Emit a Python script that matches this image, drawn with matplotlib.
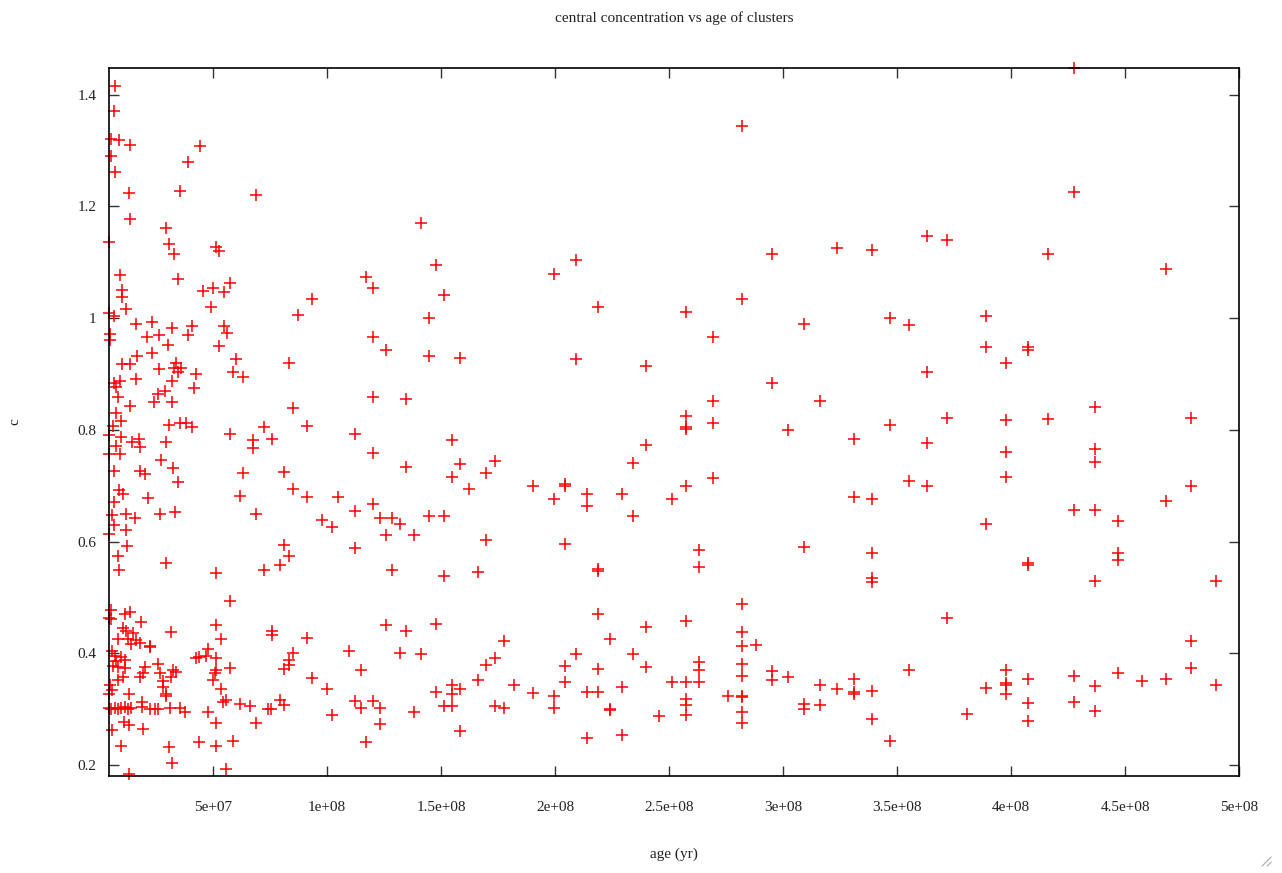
import numpy as np
import matplotlib
matplotlib.use("Agg")
import matplotlib.pyplot as plt
from matplotlib.ticker import FuncFormatter, MultipleLocator
from matplotlib.lines import Line2D

plt.rcParams['font.family'] = ['Liberation Serif', 'DejaVu Serif']

# cluster ages in Myr and central concentration c, grouped by age range
young_age = [6.89, 6.45, 5.44, 8.77, 13.78, 44.48, 38.91, 5.44, 6.89, 13.16,
             35.40, 13.78, 29.57, 4.39, 30.71, 33.08, 51.20, 52.64, 9.39, 34.53,
             10.27, 10.27, 12.02, 45.63, 50.01, 54.71, 57.64, 49.13, 4.39, 6.45,
             16.41, 23.25, 32.20, 40.67, 38.91, 55.01, 56.15, 4.69, 4.69, 21.06,
             26.32, 30.27, 52.51, 16.67, 23.25, 10.27, 13.47, 26.32, 33.65, 33.08,
             35.97, 34.83, 42.73, 59.97, 58.79, 63.17, 6.45, 9.08, 16.10, 32.20,
             41.85, 7.33, 8.34, 28.82, 25.88, 24.00, 32.20, 13.78, 7.33]
young_c = [1.416, 1.371, 1.320, 1.319, 1.310, 1.308, 1.279, 1.290, 1.261, 1.223,
           1.228, 1.177, 1.161, 1.136, 1.133, 1.114, 1.128, 1.120, 1.077, 1.070,
           1.050, 1.037, 1.016, 1.049, 1.054, 1.047, 1.062, 1.019, 1.009, 1.003,
           0.989, 0.993, 0.982, 0.986, 0.969, 0.985, 0.974, 0.972, 0.961, 0.967,
           0.969, 0.952, 0.950, 0.933, 0.937, 0.918, 0.918, 0.908, 0.919, 0.910,
           0.910, 0.903, 0.900, 0.926, 0.903, 0.894, 0.883, 0.888, 0.891, 0.888,
           0.874, 0.877, 0.859, 0.870, 0.864, 0.849, 0.850, 0.843, 0.831]

young2_age = [9.83, 6.14, 30.71, 35.40, 38.04, 40.97, 4.39, 9.83, 14.65, 17.55,
              17.86, 29.57, 57.64, 7.63, 4.39, 9.39, 27.37, 32.46, 6.45, 17.86,
              20.05, 34.83, 63.17, 8.77, 10.53, 21.50, 61.73, 6.45, 5.88, 11.71,
              15.66, 26.63, 33.21, 6.45, 12.02, 4.39, 12.28, 8.34, 8.77, 29.57,
              51.20, 57.34]
young2_c = [0.816, 0.807, 0.809, 0.813, 0.812, 0.805, 0.791, 0.787, 0.778, 0.783,
            0.770, 0.778, 0.793, 0.771, 0.757, 0.757, 0.746, 0.731, 0.726, 0.727,
            0.721, 0.707, 0.723, 0.692, 0.685, 0.678, 0.682, 0.671, 0.648, 0.649,
            0.643, 0.649, 0.653, 0.630, 0.621, 0.614, 0.593, 0.575, 0.549, 0.561,
            0.544, 0.494]

young3_age = [5.44, 5.44, 4.39, 11.27, 13.47, 18.29, 10.53, 12.02, 14.92, 8.34,
              12.72, 16.41, 14.21, 17.86, 22.55, 22.24, 31.76, 51.20, 53.70, 47.82,
              42.73, 43.87, 47.12, 51.50, 5.88, 6.89, 9.83, 7.63, 11.27, 6.14,
              8.34, 11.27, 20.05, 25.88, 19.30, 17.86, 26.63, 32.46, 33.96, 31.76,
              10.53, 8.34, 28.08, 28.08, 50.76, 51.50, 50.01, 57.34, 4.69, 5.88,
              4.39, 13.16, 29.26, 29.57, 53.70, 55.58, 54.40, 19.04, 19.04, 61.73,
              66.11,
              4.39, 5.44, 6.89, 8.34, 9.83, 11.27, 12.72, 14.21, 22.24, 24.44,
              25.88, 31.02, 35.40, 37.60, 47.82, 10.84, 13.16, 5.88, 19.30, 51.20,
              9.83, 30.71, 43.87, 51.20, 58.79, 32.20, 55.89, 13.16]
young3_c = [0.477, 0.461, 0.463, 0.470, 0.474, 0.457, 0.445, 0.440, 0.437, 0.425,
            0.425, 0.424, 0.417, 0.418, 0.414, 0.411, 0.439, 0.451, 0.425, 0.407,
            0.391, 0.394, 0.395, 0.391, 0.405, 0.395, 0.394, 0.387, 0.388, 0.377,
            0.375, 0.373, 0.376, 0.381, 0.364, 0.358, 0.364, 0.370, 0.367, 0.358,
            0.358, 0.352, 0.351, 0.340, 0.364, 0.370, 0.352, 0.374, 0.343, 0.334,
            0.328, 0.328, 0.328, 0.324, 0.336, 0.316, 0.313, 0.313, 0.304, 0.309,
            0.306,
            0.302, 0.301, 0.303, 0.300, 0.302, 0.304, 0.301, 0.302, 0.300, 0.300,
            0.300, 0.303, 0.303, 0.295, 0.295, 0.278, 0.272, 0.263, 0.264, 0.275,
            0.235, 0.232, 0.241, 0.235, 0.243, 0.203, 0.193, 0.185]

mid_age = [69.05, 141.26, 148.02, 117.31, 120.20, 151.35, 93.31, 87.30, 144.64, 120.20,
           125.77, 144.64, 158.55, 83.22, 120.20, 134.86, 85.11,
           72.25, 91.25, 67.56, 67.56, 75.90, 112.17, 120.20, 154.86, 158.55, 173.90,
           169.95, 154.86, 162.19, 134.86, 81.34, 85.11, 91.25, 104.72, 69.05, 97.70,
           102.22, 112.17, 120.20, 123.14, 128.71, 132.22, 144.64, 151.35, 125.77, 138.06,
           169.95, 81.34, 83.22, 79.27, 72.25, 112.17, 128.71, 151.35, 166.13]
mid_c = [1.221, 1.170, 1.095, 1.073, 1.054, 1.041, 1.034, 1.006, 1.000, 0.967,
         0.942, 0.933, 0.929, 0.920, 0.859, 0.855, 0.839,
         0.805, 0.806, 0.781, 0.767, 0.784, 0.792, 0.759, 0.781, 0.739, 0.745,
         0.723, 0.715, 0.694, 0.733, 0.724, 0.694, 0.679, 0.679, 0.649, 0.639,
         0.627, 0.654, 0.667, 0.643, 0.642, 0.631, 0.645, 0.645, 0.612, 0.612,
         0.603, 0.594, 0.575, 0.559, 0.549, 0.588, 0.550, 0.538, 0.546]

mid2_age = [75.90, 75.90, 91.25, 125.77, 134.86, 148.02, 177.67, 109.54, 131.92, 141.44,
            85.11, 83.22, 83.22, 81.34, 114.81, 169.95, 173.90, 93.31, 100.02, 166.13,
            148.02, 154.86, 158.55, 154.86, 79.27, 81.34, 74.14, 75.63, 69.05, 102.22,
            112.17, 114.81, 120.20, 123.14, 123.14, 138.06, 151.35, 154.86, 173.90, 177.67,
            158.55, 117.31]
mid2_c = [0.440, 0.433, 0.427, 0.451, 0.440, 0.452, 0.422, 0.405, 0.400, 0.398,
          0.400, 0.389, 0.379, 0.372, 0.371, 0.380, 0.391, 0.356, 0.337, 0.352,
          0.331, 0.343, 0.336, 0.328, 0.316, 0.307, 0.300, 0.300, 0.275, 0.290,
          0.315, 0.302, 0.315, 0.302, 0.273, 0.295, 0.306, 0.306, 0.306, 0.302,
          0.261, 0.242]

old_age = [281.95, 209.13, 199.61, 218.65, 257.25, 281.95, 269.10, 209.13, 239.84, 269.10,
           257.25, 257.25, 257.25, 269.10, 239.84, 234.26, 269.10, 257.25, 251.11, 190.40,
           204.30, 204.30, 199.61, 213.82, 213.82, 229.18, 234.26, 204.30, 218.65, 218.65,
           263.09, 263.09, 281.95, 257.25, 239.84, 218.65, 281.95, 281.95, 288.09, 224.04,
           209.13, 234.26, 204.30, 218.65, 239.84, 263.09, 263.09, 281.95, 281.95, 182.06,
           190.40, 199.61, 199.61, 204.30, 213.82, 218.65, 229.18, 224.04, 224.04, 245.67,
           251.11, 257.25, 263.09, 257.25, 257.25, 257.25, 275.68, 281.95, 281.95, 281.95,
           281.95, 213.82, 229.18]
old_c = [1.343, 1.104, 1.079, 1.019, 1.011, 1.034, 0.966, 0.927, 0.914, 0.852,
         0.825, 0.805, 0.801, 0.813, 0.773, 0.741, 0.713, 0.699, 0.677, 0.699,
         0.703, 0.699, 0.677, 0.686, 0.664, 0.686, 0.646, 0.596, 0.551, 0.547,
         0.585, 0.554, 0.489, 0.458, 0.448, 0.470, 0.439, 0.414, 0.415, 0.426,
         0.399, 0.399, 0.377, 0.372, 0.376, 0.384, 0.370, 0.381, 0.359, 0.343,
         0.329, 0.324, 0.302, 0.349, 0.331, 0.331, 0.339, 0.300, 0.298, 0.288,
         0.349, 0.349, 0.349, 0.319, 0.307, 0.290, 0.324, 0.324, 0.322, 0.295,
         0.275, 0.249, 0.254]

older_age = [295.24, 323.49, 339.11, 363.11, 371.88, 309.02, 346.88, 355.08, 389.13, 389.13,
             397.90, 295.24, 316.17, 363.11, 371.88,
             397.90, 302.26, 331.22, 346.88, 363.11, 397.90, 355.08, 363.11, 397.90, 331.22,
             339.11, 389.13, 309.02, 339.11, 339.11, 339.11, 371.88, 295.24, 295.24, 302.26,
             316.17, 323.76, 331.22, 331.22, 331.22, 339.11, 309.02, 309.02, 316.17, 339.11,
             346.88, 355.08, 380.53, 389.13, 397.90, 397.90, 397.90, 397.90]
older_c = [1.115, 1.125, 1.121, 1.147, 1.139, 0.989, 1.001, 0.987, 1.004, 0.948,
           0.919, 0.883, 0.852, 0.903, 0.821,
           0.818, 0.800, 0.784, 0.809, 0.776, 0.760, 0.708, 0.699, 0.716, 0.679,
           0.677, 0.631, 0.590, 0.580, 0.535, 0.528, 0.463, 0.369, 0.353, 0.357,
           0.344, 0.336, 0.355, 0.331, 0.328, 0.333, 0.309, 0.300, 0.308, 0.283,
           0.243, 0.371, 0.291, 0.338, 0.371, 0.347, 0.343, 0.327]

oldest_age = [427.51, 427.51, 416.08, 467.95, 407.55, 407.55, 436.67, 416.08, 478.78, 436.67,
              436.67, 478.78, 467.95, 427.51, 436.67, 446.76, 407.55, 407.55, 446.76, 446.76,
              436.67, 490.03, 478.78, 478.78, 407.55, 407.55, 407.55, 427.51, 427.51, 436.67,
              436.67, 446.76, 457.42, 467.95, 490.03]
oldest_c = [1.447, 1.225, 1.114, 1.087, 0.949, 0.942, 0.840, 0.819, 0.822, 0.766,
            0.742, 0.699, 0.673, 0.657, 0.657, 0.637, 0.561, 0.558, 0.579, 0.567,
            0.530, 0.529, 0.423, 0.374, 0.355, 0.312, 0.279, 0.360, 0.313, 0.341,
            0.297, 0.364, 0.350, 0.355, 0.343]

age_myr = np.concatenate([young_age, young2_age, young3_age, mid_age, mid2_age,
                          old_age, older_age, oldest_age])
conc = np.concatenate([young_c, young2_c, young3_c, mid_c, mid2_c,
                       old_c, older_c, oldest_c])
age_yr = age_myr * 1e6

fig = plt.figure(figsize=(12.82, 8.73), dpi=100)
ax = fig.add_axes([0.0850, 0.1114, 0.8815, 0.8104])

ax.plot(age_yr, conc, '+', color='#ff0000', ms=9, mew=1.1, clip_on=False)

ax.set_xlim(age_yr.min(), 5e8)
ax.set_ylim(0.181, conc.max())

ax.xaxis.set_major_locator(MultipleLocator(5e7))
ax.yaxis.set_major_locator(MultipleLocator(0.2))
fmt = FuncFormatter(lambda v, pos: '%g' % v)
ax.xaxis.set_major_formatter(fmt)
ax.yaxis.set_major_formatter(fmt)

ax.tick_params(direction='in', length=7, width=1, color='#333333',
               top=True, right=True, labelsize=11, labelcolor='#222222')
ax.tick_params(axis='x', pad=18)
ax.tick_params(axis='y', pad=9)
for sp in ax.spines.values():
    sp.set_linewidth(1.2)
    sp.set_color('black')

fig.text(0.5257, 0.979, 'central concentration vs age of clusters',
         ha='center', va='center', fontsize=11, color='#222222')
fig.text(0.5257, 0.021, 'age (yr)', ha='center', va='center',
         fontsize=11, color='#222222')
fig.text(0.0117, 0.5166, 'c', ha='center', va='center', rotation=90,
         fontsize=11, color='#222222')

# window resize grip in the corner
for dx in (0.0, 0.004):
    fig.add_artist(Line2D([0.9845 + dx, 0.9915], [0.0080, 0.0080 + (0.9915 - 0.9845 - dx) * 1.47],
                          color='#aaaaaa', lw=0.8))

fig.savefig('out.png', dpi=100)
